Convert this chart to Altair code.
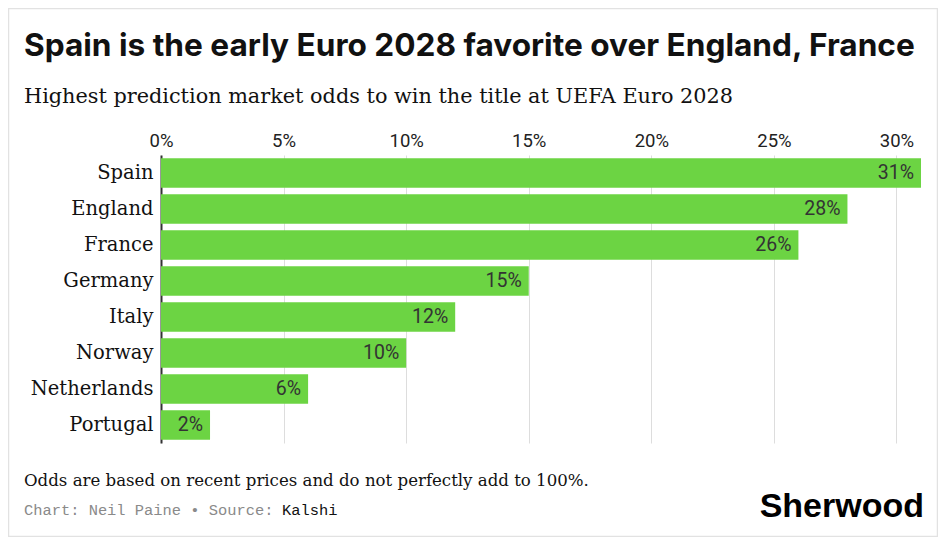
import altair as alt
import pandas as pd

countries = ["Spain", "England", "France", "Germany", "Italy", "Norway", "Netherlands", "Portugal"]
odds = [31, 28, 26, 15, 12, 10, 6, 2]
tick_values = [0, 5, 10, 15, 20, 25, 30]

title_text = "Spain is the early Euro 2028 favorite over England, France"
subtitle_text = "Highest prediction market odds to win the title at UEFA Euro 2028"
note_text = "Odds are based on recent prices and do not perfectly add to 100%."
credit_gray = "Chart: Neil Paine \u2022 Source:"
credit_dark = "Kalshi"
logo_text = "Sherwood"

df = pd.DataFrame({"country": countries, "odds": odds})
df["label"] = df["odds"].astype(str) + "%"

GREEN = "#6CD443"

x_enc = alt.X(
    "odds:Q",
    scale=alt.Scale(domain=[0, 31], nice=False),
    axis=alt.Axis(
        orient="top",
        values=tick_values,
        labelExpr="datum.value + '%'",
        title=None,
        grid=True,
        gridColor="#dddddd",
        gridWidth=1,
        domain=False,
        ticks=False,
        tickSize=0,
        labelFlush=False,
        labelFont="Roboto",
        labelFontSize=18.5,
        labelColor="#222222",
        labelPadding=5,
    ),
)
y_enc = alt.Y(
    "country:N",
    sort=countries,
    scale=alt.Scale(paddingInner=0.18, paddingOuter=0.09),
    axis=alt.Axis(
        title=None,
        ticks=False,
        tickSize=0,
        domain=True,
        domainColor="#333333",
        domainWidth=2,
        labelFont="DejaVu Serif",
        labelFontSize=19.5,
        labelColor="#111111",
        labelPadding=8,
    ),
)

frame = alt.Chart(pd.DataFrame({"f": [0]})).mark_rect(
    fill="white", fillOpacity=0, stroke="#e2e2e2", strokeWidth=1.5
).encode(
    x=alt.value(-152.5), x2=alt.value(776.5), y=alt.value(-146.5), y2=alt.value(381.5)
)

bars = alt.Chart(df).mark_bar(color=GREEN).encode(x=x_enc, y=y_enc)

labels = alt.Chart(df).mark_text(
    align="right", baseline="middle", dx=-7, font="Roboto", fontSize=19.5, color="#333333"
).encode(x="odds:Q", y=alt.Y("country:N", sort=countries), text="label:N")


def txt(s, x, y, **kw):
    return alt.Chart(pd.DataFrame({"t": [s]})).mark_text(baseline="alphabetic", **kw).encode(
        text="t:N", x=alt.value(x), y=alt.value(y)
    )


title = txt(title_text, -137, -99, align="left", font="Inter", fontSize=31.6, fontWeight="bold", color="#111111")
subtitle = txt(subtitle_text, -137, -52, align="left", font="DejaVu Serif", fontSize=20.8, color="#111111")
note = txt(note_text, -137, 331, align="left", font="DejaVu Serif", fontSize=16.6, color="#111111")
credit1 = txt(credit_gray, -137, 360, align="left", font="Liberation Mono", fontSize=15.4, color="#8a8a8a")
credit2 = txt(credit_dark, 121, 360, align="left", font="Liberation Mono", fontSize=15.4, color="#111111")
logo = txt(logo_text, 763, 362, align="right", font="Liberation Sans", fontSize=34, fontWeight="bold", color="#000000")

chart = alt.layer(frame, bars, labels, title, subtitle, note, credit1, credit2, logo).properties(
    width=760,
    height=288,
    autosize=alt.AutoSizeParams(type="none"),
    padding={"left": 153, "top": 147, "right": 17, "bottom": 94},
    background="white",
).configure_view(strokeWidth=0)

chart.save("out.html", embed_options={"renderer": "svg", "actions": False})
